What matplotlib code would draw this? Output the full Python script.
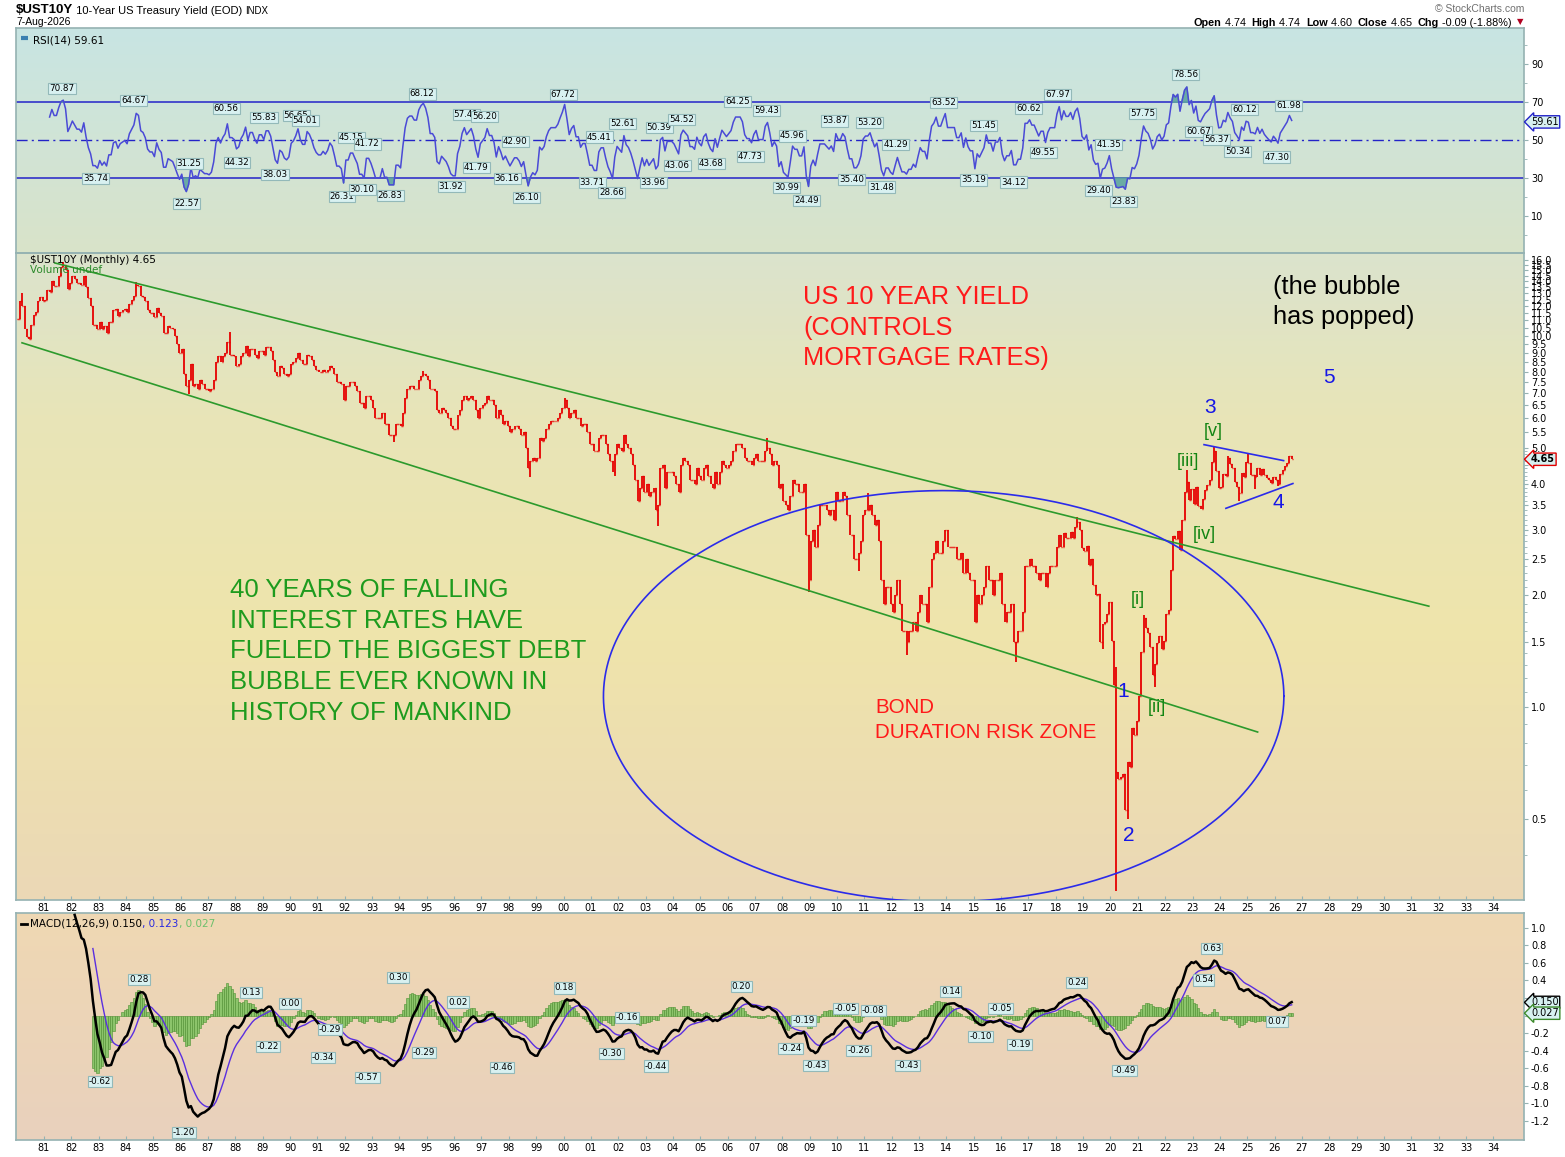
import numpy as np
import matplotlib
matplotlib.use("Agg")
import matplotlib.pyplot as plt
from matplotlib.colors import LinearSegmentedColormap
from matplotlib.ticker import FixedLocator, NullFormatter, FuncFormatter

# ---------------------------------------------------------------------------
# data: monthly closes of the 10-year yield, Jan-1980 .. Aug-2026
# ---------------------------------------------------------------------------
closes_1980s = [
    11.1, 12.4, 12.0, 10.4, 9.9, 9.8, 10.7, 11.4, 11.6, 12.4, 12.7, 12.4,
    12.5, 13.3, 13.1, 14.0, 13.6, 13.6, 14.5, 15.3, 15.5, 15.0, 13.4, 13.9,
    14.5, 14.2, 13.9, 13.9, 13.7, 14.5, 13.5, 12.6, 12.0, 10.7, 10.7, 10.4,
    10.9, 10.4, 10.6, 10.2, 10.9, 10.9, 11.7, 11.8, 11.3, 11.6, 11.7, 11.8,
    11.6, 12.2, 12.5, 12.8, 13.7, 13.6, 12.8, 12.7, 12.4, 11.7, 11.5, 11.5,
    11.2, 11.9, 11.5, 11.3, 10.2, 10.2, 10.6, 10.5, 10.4, 10.0, 9.5, 9.0,
    9.2, 7.9, 7.3, 7.6, 8.4, 7.3, 7.4, 7.2, 7.6, 7.4, 7.2, 7.2,
    7.1, 7.2, 7.6, 8.5, 8.8, 8.5, 8.8, 9.0, 9.6, 8.9, 8.9, 8.8,
    8.3, 8.4, 8.8, 9.0, 9.4, 8.8, 9.2, 9.2, 8.9, 8.7, 9.1, 9.1,
    8.9, 9.3, 9.3, 9.1, 8.6, 8.0, 7.8, 8.3, 8.2, 7.9, 7.8, 7.9,
]
closes_1990s = [
    8.4, 8.5, 8.7, 9.0, 8.6, 8.4, 8.4, 8.9, 8.8, 8.6, 8.3, 8.1,
    8.0, 8.0, 8.1, 8.0, 8.1, 8.3, 8.2, 7.9, 7.5, 7.5, 7.4, 6.7,
    7.3, 7.3, 7.5, 7.5, 7.3, 7.1, 6.6, 6.6, 6.4, 6.9, 6.9, 6.7,
    6.4, 6.0, 6.0, 6.0, 6.2, 5.8, 5.8, 5.4, 5.4, 5.4, 5.8, 5.8,
    5.7, 6.2, 6.8, 7.2, 7.3, 7.3, 7.2, 7.2, 7.6, 7.8, 7.9, 7.8,
    7.6, 7.2, 7.2, 7.1, 6.3, 6.2, 6.4, 6.3, 6.2, 6.0, 5.7, 5.6,
    5.6, 6.1, 6.3, 6.7, 6.9, 6.7, 6.8, 6.9, 6.7, 6.3, 6.0, 6.4,
    6.5, 6.6, 6.9, 6.7, 6.7, 6.5, 6.0, 6.3, 6.1, 5.8, 5.9, 5.7,
    5.5, 5.6, 5.7, 5.7, 5.6, 5.4, 5.5, 5.0, 4.4, 4.6, 4.7, 4.6,
    4.7, 5.3, 5.2, 5.3, 5.6, 5.8, 5.9, 5.9, 5.9, 6.0, 6.2, 6.4,
]
closes_2000s = [
    6.7, 6.4, 6.0, 6.2, 6.3, 6.0, 6.0, 5.7, 5.8, 5.8, 5.5, 5.1,
    5.1, 4.9, 4.9, 5.3, 5.4, 5.4, 5.1, 4.8, 4.6, 4.3, 4.8, 5.1,
    5.0, 4.9, 5.4, 5.1, 5.0, 4.8, 4.5, 4.1, 3.6, 3.9, 4.2, 3.8,
    4.0, 3.7, 3.8, 3.9, 3.4, 3.5, 4.4, 4.5, 3.9, 4.3, 4.3, 4.3,
    4.2, 4.0, 3.8, 4.5, 4.7, 4.6, 4.5, 4.1, 4.1, 4.0, 4.4, 4.2,
    4.1, 4.4, 4.5, 4.2, 4.0, 3.9, 4.3, 4.0, 4.3, 4.6, 4.5, 4.4,
    4.5, 4.6, 4.9, 5.1, 5.1, 5.1, 5.0, 4.7, 4.6, 4.6, 4.5, 4.7,
    4.8, 4.6, 4.6, 4.6, 4.9, 5.0, 4.8, 4.5, 4.6, 4.5, 3.9, 4.0,
    3.6, 3.5, 3.4, 3.7, 4.1, 4.0, 4.0, 3.8, 3.8, 4.0, 2.9, 2.2,
    2.8, 3.0, 2.7, 3.1, 3.5, 3.5, 3.5, 3.4, 3.3, 3.4, 3.2, 3.8,
]
closes_2010s = [
    3.6, 3.6, 3.8, 3.7, 3.3, 2.9, 2.9, 2.5, 2.5, 2.6, 2.8, 3.3,
    3.4, 3.4, 3.5, 3.3, 3.1, 3.2, 2.8, 2.2, 1.9, 2.1, 2.1, 1.9,
    1.8, 2.0, 2.2, 1.9, 1.6, 1.6, 1.5, 1.6, 1.6, 1.7, 1.6, 1.8,
    2.0, 1.9, 1.9, 1.7, 2.1, 2.5, 2.6, 2.8, 2.6, 2.6, 2.8, 3.0,
    2.7, 2.7, 2.7, 2.7, 2.5, 2.5, 2.6, 2.3, 2.5, 2.3, 2.2, 2.2,
    1.7, 2.0, 1.9, 2.0, 2.1, 2.4, 2.2, 2.2, 2.0, 2.2, 2.2, 2.3,
    1.9, 1.7, 1.8, 1.8, 1.9, 1.5, 1.5, 1.6, 1.6, 1.8, 2.4, 2.4,
    2.5, 2.4, 2.4, 2.3, 2.2, 2.3, 2.3, 2.1, 2.3, 2.4, 2.4, 2.4,
    2.7, 2.9, 2.7, 2.95, 2.86, 2.86, 2.96, 2.86, 3.06, 3.15, 3.0, 2.69,
    2.63, 2.72, 2.41, 2.51, 2.13, 2.0, 2.02, 1.5, 1.67, 1.69, 1.78, 1.92,
]
closes_2020s = [
    1.51, 1.15, 0.67, 0.64, 0.65, 0.66, 0.53, 0.71, 0.69, 0.88, 0.84, 0.92,
    1.07, 1.41, 1.74, 1.63, 1.58, 1.45, 1.22, 1.31, 1.49, 1.55, 1.43, 1.51,
    1.78, 1.83, 2.34, 2.89, 2.84, 2.98, 2.65, 3.19, 3.80, 4.05, 3.61, 3.87,
    3.52, 3.92, 3.47, 3.42, 3.64, 3.84, 3.96, 4.09, 4.57, 4.88, 4.33, 3.88,
    3.91, 4.25, 4.20, 4.68, 4.51, 4.40, 4.03, 3.91, 3.78, 4.28, 4.17, 4.57,
    4.54, 4.21, 4.21, 4.17, 4.40, 4.23, 4.37, 4.23, 4.15, 4.08, 4.02, 4.17,
    4.10, 4.00, 4.25, 4.35, 4.45, 4.55, 4.74, 4.65,
]

# intramonth extremes that stick out of the bars
spike_months = ["1980-03", "1981-09", "1984-05", "1986-04", "1987-10", "1993-10",
                "1994-11", "1998-10", "2000-01", "2001-11", "2003-06", "2007-06",
                "2008-12", "2010-10", "2011-02", "2012-07", "2016-07", "2018-10",
                "2019-09", "2020-03", "2020-03", "2020-08", "2021-03", "2021-08",
                "2022-10", "2023-10", "2024-04", "2024-09", "2025-01", "2025-04",
                "2026-02"]
spike_values = [13.0, 15.8, 13.95, 6.95, 10.25, 5.17,
                8.05, 4.16, 6.79, 4.19, 3.07, 5.32,
                2.04, 2.33, 3.77, 1.38, 1.32, 3.26,
                1.43, 0.32, 1.28, 0.50, 1.77, 1.13,
                4.34, 5.02, 4.74, 3.60, 4.81, 3.86,
                3.95]

# RSI peak / trough tags (year, value, side: 1 above, -1 below)
rsi_tag_year = [1981.66, 1982.90, 1984.29, 1986.31, 1986.23, 1987.66, 1988.06, 1989.05,
                1989.45, 1990.22, 1990.55, 1992.23, 1992.82, 1991.90, 1992.64, 1993.66,
                1994.83, 1996.44, 1997.10, 1995.89, 1996.81, 1998.23, 1997.94, 1998.64,
                1999.99, 2001.31, 2001.05, 2001.75, 2002.15, 2003.50, 2004.31, 2003.28,
                2004.16, 2005.40, 2006.36, 2007.42, 2006.83, 2008.37, 2008.15, 2008.88,
                2009.91, 2011.19, 2010.53, 2012.14, 2011.63, 2013.89, 2015.36, 2014.99,
                2016.45, 2017.00, 2018.07, 2017.55, 2019.93, 2019.57, 2020.48, 2021.17,
                2022.75, 2023.22, 2023.88, 2024.91, 2024.65, 2026.52, 2026.08]
rsi_tag_val = [70.87, 35.74, 64.67, 31.25, 22.57, 60.56, 44.32, 55.83,
               38.03, 56.65, 54.01, 45.15, 41.72, 26.31, 30.10, 26.83,
               68.12, 57.41, 56.20, 31.92, 41.79, 42.90, 36.16, 26.10,
               67.72, 45.41, 33.71, 28.66, 52.61, 50.39, 54.52, 33.96,
               43.06, 43.68, 64.25, 59.43, 47.73, 45.96, 30.99, 24.49,
               53.87, 53.20, 35.40, 41.29, 31.48, 63.52, 51.45, 35.19,
               34.12, 60.62, 67.97, 49.55, 41.35, 29.40, 23.83, 57.75,
               78.56, 60.67, 56.37, 60.12, 50.34, 61.98, 47.30]
rsi_tag_side = [1, -1, 1, 1, -1, 1, -1, 1,
                -1, 1, 1, 1, 1, -1, -1, -1,
                1, 1, 1, -1, -1, 1, -1, -1,
                1, 1, -1, -1, 1, 1, 1, -1,
                -1, -1, 1, 1, -1, 1, -1, -1,
                1, 1, -1, 1, -1, 1, 1, -1,
                -1, 1, 1, -1, 1, -1, -1, 1,
                1, -1, -1, 1, -1, 1, -1]

# MACD peak / trough tags
macd_tag_year = [1984.48, 1983.05, 1986.12, 1988.57, 1989.20, 1990.00, 1991.46, 1991.21,
                 1992.82, 1993.95, 1994.90, 1996.15, 1997.76, 2000.03, 2002.33, 2001.75,
                 2003.39, 2006.50, 2008.77, 2008.30, 2009.21, 2010.31, 2011.33, 2010.78,
                 2012.58, 2014.15, 2015.25, 2015.98, 2016.67, 2018.76, 2020.52, 2023.70,
                 2023.41, 2026.08]
macd_tag_val = [0.28, -0.62, -1.20, 0.13, -0.22, 0.00, -0.29, -0.34,
                -0.57, 0.30, -0.29, 0.02, -0.46, 0.18, -0.16, -0.30,
                -0.44, 0.20, -0.19, -0.24, -0.43, -0.05, -0.08, -0.26,
                -0.43, 0.14, -0.10, -0.05, -0.19, 0.24, -0.49, 0.63,
                0.54, 0.07]
macd_tag_side = [1, -1, -1, 1, -1, 1, 1, -1,
                 -1, 1, -1, 1, -1, 1, 1, -1,
                 -1, 1, 1, -1, -1, 1, 1, -1,
                 -1, 1, -1, 1, -1, 1, -1, 1,
                 -1, -1]

year_ticks = list(range(1981, 2035))
year_labels = [f"{y % 100:02d}" for y in year_ticks]

# ---------------------------------------------------------------------------
# series
# ---------------------------------------------------------------------------
START = 1980
close = np.array(closes_1980s + closes_1990s + closes_2000s + closes_2010s + closes_2020s)
n = len(close)
t = START + (np.arange(n) + 0.5) / 12.0
opn = np.r_[close[0], close[:-1]]
hi = np.maximum(opn, close)
lo = np.minimum(opn, close)
for m, v in zip(spike_months, spike_values):
    yy, mm = map(int, m.split("-"))
    i = (yy - START) * 12 + mm - 1
    hi[i] = max(hi[i], v)
    lo[i] = min(lo[i], v)


def wilder_rsi(c, p=14):
    d = np.diff(c)
    g = np.where(d > 0, d, 0.0)
    l = np.where(d < 0, -d, 0.0)
    out = np.full(len(c), np.nan)
    ag, al = g[:p].mean(), l[:p].mean()
    out[p] = 100 - 100 / (1 + ag / al)
    for k in range(p, len(d)):
        ag = (ag * (p - 1) + g[k]) / p
        al = (al * (p - 1) + l[k]) / p
        out[k + 1] = 100 - 100 / (1 + ag / al)
    return out


def ema(x, p):
    out = np.full(len(x), np.nan)
    first = int(np.argmax(~np.isnan(x)))
    out[first + p - 1] = np.mean(x[first:first + p])
    a = 2.0 / (p + 1)
    for k in range(first + p, len(x)):
        out[k] = out[k - 1] + a * (x[k] - out[k - 1])
    return out


rsi = wilder_rsi(close)
macd = ema(close, 12) - ema(close, 26)
signal = ema(macd, 9)
hist = macd - signal

# ---------------------------------------------------------------------------
# figure layout (pixel measured)
# ---------------------------------------------------------------------------
W, H = 1565, 1157
fig = plt.figure(figsize=(W / 100, H / 100), dpi=100)
fig.patch.set_facecolor("white")


def px_box(top, bottom, left=16, right=1524):
    return [left / W, 1 - bottom / H, (right - left) / W, (bottom - top) / H]


def panel(box, colors, stops):
    bg = fig.add_axes(box, zorder=0)
    cmap = LinearSegmentedColormap.from_list("g", list(zip(stops, colors)))
    bg.imshow(np.linspace(1, 0, 256)[:, None], aspect="auto", cmap=cmap,
              extent=[0, 1, 0, 1], vmin=0, vmax=1)
    bg.axis("off")
    ax = fig.add_axes(box, zorder=1)
    ax.patch.set_alpha(0)
    for s in ax.spines.values():
        s.set_color("#95b2b2")
        s.set_linewidth(1.2)
    ax.yaxis.tick_right()
    ax.tick_params(axis="y", which="both", direction="out", color="#95b2b2",
                   labelsize=7, pad=2, length=3)
    ax.tick_params(axis="y", which="minor", length=2)
    ax.set_xlim(1979.98, 2035.12)
    return ax


ax_rsi = panel(px_box(28, 253), ["#d9e3c9", "#c8e5e3"], [0, 1])
ax_px = panel(px_box(253, 900), ["#ebd8b6", "#efe4ab", "#e8e5b8", "#dbe3cd"], [0, 0.4, 0.75, 1])
ax_macd = panel(px_box(913, 1140), ["#e9d1bd", "#efd8b3"], [0, 1])

SMALL = "DejaVu Sans"
BIG = "Liberation Sans"
TAG_FC = "#d8f1f1"
TAG_EC = "#93b9b9"


def tag(ax, x, v, txt, side):
    ax.annotate(txt, xy=(x, v), xytext=(0, 8.5 * side), textcoords="offset points",
                ha="center", va="center", fontsize=6.3, family=SMALL, zorder=8,
                bbox=dict(boxstyle="square,pad=0.12", fc=TAG_FC, ec=TAG_EC, lw=0.8))


def edge_box(ax, v, txt, ec, bold=False):
    ax.annotate(txt, xy=(1, v), xycoords=("axes fraction", "data"), xytext=(5, 0),
                textcoords="offset points", ha="left", va="center", fontsize=7,
                family=SMALL, fontweight="bold" if bold else "normal", zorder=9,
                annotation_clip=False,
                bbox=dict(boxstyle="larrow,pad=0.12", fc=TAG_FC, ec=ec, lw=1))


# ---------------------------------------------------------------------------
# RSI panel
# ---------------------------------------------------------------------------
ax_rsi.set_ylim(-9.6, 109.2)
for lvl in (70, 30):
    ax_rsi.axhline(lvl, color="#2323c8", lw=1.1, zorder=2)
ax_rsi.axhline(50, color="#2323c8", lw=1, ls=(0, (8, 3, 1.5, 3)), zorder=2)
ok = ~np.isnan(rsi)
ax_rsi.fill_between(t[ok], rsi[ok], 70, where=rsi[ok] > 70, interpolate=True,
                    color="#5fa5a0", alpha=0.9, zorder=2)
ax_rsi.fill_between(t[ok], rsi[ok], 30, where=rsi[ok] < 30, interpolate=True,
                    color="#5fa5a0", alpha=0.9, zorder=2)
ax_rsi.plot(t, rsi, color="#4a4ad6", lw=1.1, zorder=3)
ax_rsi.set_yticks([10, 30, 50, 70, 90])
ax_rsi.yaxis.set_minor_locator(FixedLocator([0, 20, 40, 60, 80, 100]))
ax_rsi.set_xticks([])
for x, v, s in zip(rsi_tag_year, rsi_tag_val, rsi_tag_side):
    tag(ax_rsi, x, v, f"{v:.2f}", s)
edge_box(ax_rsi, 59.61, "59.61", "#2323c8")
ax_rsi.text(0.011, 0.965, "RSI(14) 59.61", transform=ax_rsi.transAxes, fontsize=7.5,
            family=SMALL, va="top", ha="left")
ax_rsi.plot([0.003, 0.008], [0.955, 0.955], transform=ax_rsi.transAxes,
            color="#3b7fb0", lw=3, solid_capstyle="butt")

# ---------------------------------------------------------------------------
# price panel (log scale)
# ---------------------------------------------------------------------------
ax_px.set_yscale("log")
ax_px.set_ylim(0.3025, 16.7)
ax_px.vlines(t, lo, hi, color="#e60000", lw=1.3, zorder=4)
ax_px.hlines(opn, t - 0.035, t, color="#e60000", lw=1, zorder=4)
ax_px.hlines(close, t, t + 0.035, color="#e60000", lw=1, zorder=4)

major = np.arange(0.5, 16.01, 0.5)
ax_px.yaxis.set_major_locator(FixedLocator(major))
# the 4.5 label sits under the last-value box, as on the original
ax_px.yaxis.set_major_formatter(FuncFormatter(lambda v, p: "" if abs(v - 4.5) < 1e-6 else f"{v:.1f}"))
minor = [v for v in np.arange(0.3, 5.0, 0.1) if abs(v / 0.5 - round(v / 0.5)) > 1e-6]
ax_px.yaxis.set_minor_locator(FixedLocator(minor))
ax_px.yaxis.set_minor_formatter(NullFormatter())
ax_px.set_xticks(year_ticks)
ax_px.set_xticklabels(year_labels)
ax_px.tick_params(axis="x", length=3, direction="in", color="#95b2b2", labelsize=7, pad=2)

# channel lines
ax_px.plot([1981.40, 2031.64], [15.7, 1.87], color="#2c9a2c", lw=1.2, zorder=5)
ax_px.plot([1980.20, 2025.38], [9.57, 0.857], color="#2c9a2c", lw=1.2, zorder=5)

# duration-risk ellipse (ellipse in log space)
th = np.linspace(0, 2 * np.pi, 500)
ax_px.plot(2013.9 + 12.44 * np.cos(th), 1.07 * 2 ** (1.839 * np.sin(th)),
           color="#2b2bea", lw=1.2, zorder=5)

# triangle (wave 4)
ax_px.plot([2023.42, 2026.33], [5.09, 4.61], color="#2b2bea", lw=1.2, zorder=5)
ax_px.plot([2024.22, 2026.67], [3.43, 4.00], color="#2b2bea", lw=1.2, zorder=5)

for x, v, s in [(2020.48, 1.10, "1"), (2020.66, 0.45, "2"), (2023.63, 6.4, "3"),
                (2026.15, 3.56, "4"), (2027.98, 7.7, "5")]:
    ax_px.text(x, v, s, color="#1616e6", fontsize=15, family=BIG, ha="center",
               va="center", zorder=7)
for x, v, s in [(2021.0, 1.95, "[i]"), (2021.69, 1.0, "[ii]"), (2022.82, 4.58, "[iii]"),
                (2023.44, 2.92, "[iv]"), (2023.77, 5.52, "[v]")]:
    ax_px.text(x, v, s, color="#138513", fontsize=13, family=BIG, ha="center",
               va="center", zorder=7)

ax_px.text(0.5219, 0.951, "US 10 YEAR YIELD\n(CONTROLS\nMORTGAGE RATES)",
           transform=ax_px.transAxes, color="#ff1a1a", fontsize=18.3, family=BIG,
           va="top", ha="left", linespacing=1.36, zorder=7)
ax_px.text(0.1419, 0.498, "40 YEARS OF FALLING\nINTEREST RATES HAVE\nFUELED THE BIGGEST DEBT\n"
           "BUBBLE EVER KNOWN IN\nHISTORY OF MANKIND",
           transform=ax_px.transAxes, color="#1e9b1e", fontsize=18.5, family=BIG,
           va="top", ha="left", linespacing=1.36, zorder=7)
ax_px.text(0.5696, 0.312, "BOND\nDURATION RISK ZONE", transform=ax_px.transAxes,
           color="#ff1a1a", fontsize=14.8, family=BIG, va="top", ha="left",
           linespacing=1.36, zorder=7)
ax_px.text(0.8336, 0.966, "(the bubble\nhas popped)", transform=ax_px.transAxes,
           color="black", fontsize=18.3, family=BIG, va="top", ha="left",
           linespacing=1.34, zorder=7)

ax_px.text(0.0095, 0.997, "$UST10Y (Monthly) 4.65", transform=ax_px.transAxes,
           fontsize=7.5, family=SMALL, va="top", ha="left", zorder=7)
ax_px.text(0.0095, 0.981, "Volume undef", transform=ax_px.transAxes, color="#2b8a2b",
           fontsize=7.5, family=SMALL, va="top", ha="left", zorder=7)
edge_box(ax_px, 4.65, "4.65", "#e00000", bold=True)

# ---------------------------------------------------------------------------
# MACD panel
# ---------------------------------------------------------------------------
ax_macd.set_ylim(-1.417, 1.168)
okh = ~np.isnan(hist)
ax_macd.bar(t[okh], hist[okh], width=1 / 12, color="#8cc46b", edgecolor="#4d8f32",
            linewidth=0.4, zorder=2)
ax_macd.plot(t, signal, color="#5a2ee0", lw=1, zorder=3)
ax_macd.plot(t, macd, color="black", lw=1.8, zorder=4)
ax_macd.set_yticks(np.round(np.arange(-1.2, 1.01, 0.2), 1))
# 0.2 and 0.0 are covered by the last-value boxes on the original
ax_macd.yaxis.set_major_formatter(
    FuncFormatter(lambda v, p: "" if -0.05 < v < 0.25 else f"{v:.1f}"))
ax_macd.set_xticks(year_ticks)
ax_macd.set_xticklabels(year_labels)
ax_macd.tick_params(axis="x", length=3, direction="in", color="#95b2b2", labelsize=7, pad=2)
for x, v, s in zip(macd_tag_year, macd_tag_val, macd_tag_side):
    tag(ax_macd, x, v, f"{v:.2f}", s)
edge_box(ax_macd, 0.150, "0.150", "black")
edge_box(ax_macd, 0.027, "0.027", "#3c8a2a")

ax_macd.plot([0.003, 0.0075], [0.95, 0.95], transform=ax_macd.transAxes, color="black", lw=2)
t0 = ax_macd.text(0.0095, 0.975, "MACD(12,26,9) 0.150", transform=ax_macd.transAxes,
                  fontsize=7.5, family=SMALL, va="top", ha="left")
t1 = ax_macd.annotate(", 0.123", xy=(1, 0), xycoords=t0, fontsize=7.5, family=SMALL,
                      va="bottom", ha="left", color="#2a2ae0")
ax_macd.annotate(", 0.027", xy=(1, 0), xycoords=t1, fontsize=7.5, family=SMALL,
                 va="bottom", ha="left", color="#6cc06c")

# ---------------------------------------------------------------------------
# header
# ---------------------------------------------------------------------------
h0 = fig.text(16 / W, 1 - 4 / H, "$UST10Y", fontsize=9.5, fontweight="bold",
              family=BIG, va="top", ha="left")
h1 = fig.add_artist(plt.Annotation(" 10-Year US Treasury Yield (EOD) ", xy=(1, 0),
                                   xycoords=h0, fontsize=8, family=BIG,
                                   va="bottom", ha="left"))
fig.add_artist(plt.Annotation("INDX", xy=(1, 0), xycoords=h1, fontsize=7, family=BIG,
                              va="bottom", ha="left"))
fig.text(16 / W, 1 - 17 / H, "7-Aug-2026", fontsize=7.5, family=BIG, va="top", ha="left")
fig.text(1524 / W, 1 - 4 / H, "\u00a9 StockCharts.com", fontsize=7.5, family=BIG,
         color="#707070", va="top", ha="right")

parts = [("Open", True), (" 4.74  ", False), ("High", True), (" 4.74  ", False),
         ("Low", True), (" 4.60  ", False), ("Close", True), (" 4.65  ", False),
         ("Chg", True), (" -0.09 (-1.88%)", False)]
prev = fig.text(1194 / W, 1 - 26 / H, parts[0][0], fontsize=7.8, family=BIG,
                fontweight="bold", va="baseline", ha="left")
for txt, b in parts[1:]:
    prev = fig.add_artist(plt.Annotation(txt, xy=(1, 0), xycoords=prev, fontsize=7.8,
                                         family=BIG, fontweight="bold" if b else "normal",
                                         va="bottom", ha="left"))
fig.text(1520 / W, 1 - 22 / H, "\u25bc", fontsize=6, color="#b00020", va="center", ha="center")

fig.savefig("out.png", dpi=100)
